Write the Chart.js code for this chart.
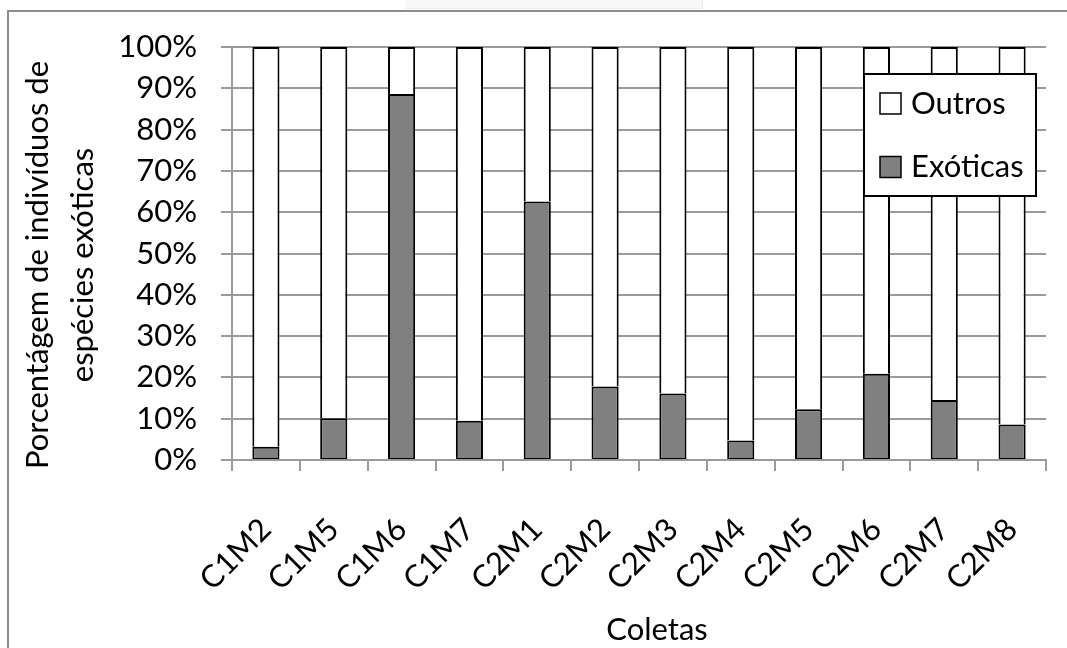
<!DOCTYPE html>
<html>
<head>
<meta charset="utf-8">
<script src="https://cdn.jsdelivr.net/npm/chart.js@4/dist/chart.umd.min.js"></script>
<style>
  html, body { margin: 0; padding: 0; background: #fff; }
  #wrap { position: relative; width: 1067px; height: 648px; }
  canvas { display: block; }
</style>
</head>
<body>
<div id="wrap"><canvas id="c" width="1067" height="648"></canvas></div>
<script>
// Sampling campaigns (coleta + módulo)
const categories = ['C1M2', 'C1M5', 'C1M6', 'C1M7', 'C2M1', 'C2M2', 'C2M3', 'C2M4', 'C2M5', 'C2M6', 'C2M7', 'C2M8'];
// Share of individuals belonging to exotic species (%)
const exoticas = [3.2, 10.1, 88.6, 9.5, 62.6, 17.8, 16.1, 4.7, 12.3, 20.9, 14.5, 8.6];
// Remaining individuals (%)
const outros = [96.8, 89.9, 11.4, 90.5, 37.4, 82.2, 83.9, 95.3, 87.7, 79.1, 85.5, 91.4];
// Y axis tick labels, one per 10 %
const yTickLabels = ['0%', '10%', '20%', '30%', '40%', '50%', '60%', '70%', '80%', '90%', '100%'];
const seriesNames = ['Exóticas', 'Outros'];
const yTitle = ['Porcentágem de indivíduos de', 'espécies exóticas'];
const xTitle = 'Coletas';

const FONT = 'Lato, "Open Sans", sans-serif';
const FS = 31;
const GRID = '#9a9a9a';

// Page frame, axis titles and the boxed legend
const decorations = {
  id: 'decorations',
  beforeDraw(chart) {
    const ctx = chart.ctx;
    ctx.save();
    ctx.fillStyle = '#fff';
    ctx.fillRect(0, 0, chart.width, chart.height);
    // faint strip at the top edge
    ctx.fillStyle = '#f8f8f8';
    ctx.fillRect(405, 0, 298, 8);
    ctx.strokeStyle = '#ececec';
    ctx.lineWidth = 1;
    ctx.beginPath();
    ctx.moveTo(702.5, 0); ctx.lineTo(702.5, 8.5); ctx.lineTo(405, 8.5);
    ctx.stroke();
    // outer frame (left and top edges)
    ctx.strokeStyle = '#8c8c8c';
    ctx.lineWidth = 2;
    ctx.beginPath();
    ctx.moveTo(8, chart.height);
    ctx.lineTo(8, 11);
    ctx.lineTo(chart.width, 11);
    ctx.stroke();
    ctx.restore();
  },
  afterDraw(chart) {
    const ctx = chart.ctx;
    ctx.save();
    ctx.fillStyle = '#000';
    ctx.font = FS + 'px ' + FONT;
    // y axis title, two rotated lines
    ctx.save();
    ctx.translate(48, 265);
    ctx.rotate(-Math.PI / 2);
    ctx.textAlign = 'center';
    ctx.textBaseline = 'alphabetic';
    ctx.fillText(yTitle[0], 0, 0);
    ctx.fillText(yTitle[1], 0, 45);
    ctx.restore();
    // x axis title
    ctx.textAlign = 'center';
    ctx.textBaseline = 'middle';
    ctx.fillText(xTitle, 657, 630);

    // legend box
    ctx.fillStyle = '#fff';
    ctx.fillRect(864, 74, 172, 122);
    ctx.strokeStyle = '#000';
    ctx.lineWidth = 2;
    ctx.strokeRect(864, 74, 172, 122);
    const items = chart.data.datasets.slice().reverse();
    const rows = [103.5, 167];
    items.forEach((ds, i) => {
      const cy = rows[i];
      ctx.fillStyle = ds.backgroundColor;
      ctx.fillRect(880, cy - 10.5, 21, 21);
      ctx.strokeStyle = '#000';
      ctx.lineWidth = 1.5;
      ctx.strokeRect(880, cy - 10.5, 21, 21);
      ctx.fillStyle = '#000';
      ctx.textAlign = 'left';
      ctx.textBaseline = 'middle';
      ctx.font = FS + 'px ' + FONT;
      ctx.fillText(ds.label, 911, cy);
    });
    ctx.restore();
  }
};

new Chart(document.getElementById('c'), {
  type: 'bar',
  data: {
    labels: categories,
    datasets: [
      {
        label: seriesNames[0],
        data: exoticas,
        backgroundColor: '#808080',
        borderColor: '#000',
        borderWidth: { top: 2, left: 2, right: 2, bottom: 1 },
        borderSkipped: false,
        categoryPercentage: 1,
        barPercentage: 0.4
      },
      {
        label: seriesNames[1],
        data: outros,
        backgroundColor: '#ffffff',
        borderColor: '#000',
        borderWidth: { top: 2, left: 2, right: 2, bottom: 0 },
        borderSkipped: false,
        categoryPercentage: 1,
        barPercentage: 0.4
      }
    ]
  },
  options: {
    responsive: false,
    animation: false,
    devicePixelRatio: 1,
    layout: { padding: { top: 47, right: 21, left: 0, bottom: 0 } },
    plugins: {
      legend: { display: false },
      tooltip: { enabled: false }
    },
    scales: {
      x: {
        stacked: true,
        grid: { offset: true, drawOnChartArea: false, drawTicks: true, tickLength: 11, color: GRID, lineWidth: 2 },
        border: { display: true, color: GRID, width: 2 },
        ticks: {
          autoSkip: false, minRotation: 45, maxRotation: 45, padding: 40,
          color: '#000', font: { family: FONT, size: FS }
        },
        afterFit(scale) {
          scale.height = 188;
          scale.paddingLeft = 0;
          scale.paddingRight = 0;
        }
      },
      y: {
        stacked: true,
        min: 0,
        max: 100,
        grid: { color: GRID, lineWidth: 2, tickLength: 11 },
        border: { display: true, color: GRID, width: 2 },
        ticks: {
          stepSize: 10, padding: 24, color: '#000',
          font: { family: FONT, size: FS },
          callback: (v) => yTickLabels[Math.round(v / 10)]
        },
        afterFit(scale) {
          scale.width = 232;
          scale.paddingTop = 0;
          scale.paddingBottom = 0;
        }
      }
    }
  },
  plugins: [decorations]
});
</script>
</body>
</html>
